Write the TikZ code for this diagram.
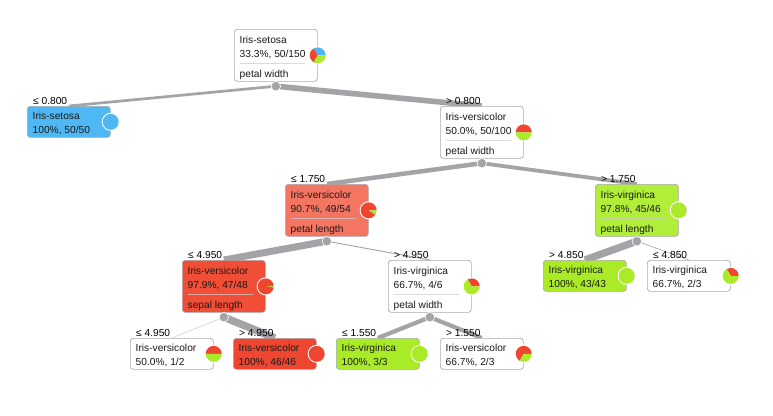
\documentclass[tikz,border=0pt]{standalone}
\usepackage{fontspec}
\setmainfont{Liberation Sans}
\usetikzlibrary{backgrounds}

\definecolor{edgecol}{HTML}{A3A3A8}
\definecolor{boxline}{HTML}{A9A9A9}
\definecolor{txtcol}{HTML}{1A1A1A}
\definecolor{setosa}{HTML}{4DB8F4}
\definecolor{versi}{HTML}{EE4630}
\definecolor{virg}{HTML}{AAEB28}
\definecolor{versiA}{HTML}{F57563}
\definecolor{versiB}{HTML}{F04E37}
\definecolor{virgA}{HTML}{B1EE3A}

% internal node: name, position, fill, condition, class, stats, attribute
\newcommand\splitbox[7]{%
  \node[tbox, minimum height=52pt, fill=#3] (#1) at #2 {};
  \node[cond] (#1-c) at ([shift={(6,-1.5)}]#1.north west) {#4};
  \node[txt] (#1-1) at ([shift={(5.5,14)}]#1.north west) {#5};
  \node[txt] (#1-2) at ([shift={(5.5,28)}]#1.north west) {#6};
  \draw[sepline] ([shift={(5.5,34.5)}]#1.north west) -- ([shift={(-13,34.5)}]#1.north east);
  \node[txt] (#1-3) at ([shift={(5.5,48)}]#1.north west) {#7};
  \node[splitdot] (#1-s) at ([shift={(0,4.5)}]#1.south) {};
}
% leaf node: name, position, fill, condition, class, stats
\newcommand\leafbox[6]{%
  \node[tbox, minimum height=31pt, fill=#3] (#1) at #2 {};
  \node[cond] (#1-c) at ([shift={(6,-1.5)}]#1.north west) {#4};
  \node[txt] (#1-1) at ([shift={(5.5,13.5)}]#1.north west) {#5};
  \node[txt] (#1-2) at ([shift={(5.5,27)}]#1.north west) {#6};
}
% class distribution pie on the right edge of a node
\newcommand\distpie[2]{%
  \fill[white] (#1.east) circle[radius=9pt];
  \foreach \a/\b/\c in {#2} {
    \fill[\c] (#1.east) -- ++(\a:8pt) arc[start angle=\a, end angle=\b, radius=8pt] -- cycle;
  }
}

\begin{document}
\begin{tikzpicture}[x=1pt, y=-1pt,
  font=\fontsize{10.2}{12}\selectfont,
  tbox/.style={draw=boxline, line width=0.7pt, rounded corners=3pt,
    minimum width=83pt, anchor=north west, inner sep=0pt},
  txt/.style={anchor=base west, inner sep=0pt, text=txtcol},
  cond/.style={anchor=base west, inner sep=0pt, text=black},
  sepline/.style={draw=black!20, opacity=0.7, line width=0.8pt},
  splitdot/.style={circle, fill=edgecol, draw=white, line width=0.6pt,
    minimum size=9.5pt, inner sep=0pt},
  edge/.style={draw=edgecol, line cap=butt}]

\useasboundingbox (0,0) rectangle (773,415);

% root
\node[tbox, minimum height=52pt, fill=white] (root) at (234,29) {};
\node[txt] (root-1) at ([shift={(5.5,14)}]root.north west) {Iris-setosa};
\node[txt] (root-2) at ([shift={(5.5,28)}]root.north west) {33.3\%, 50/150};
\draw[sepline] ([shift={(5.5,34.5)}]root.north west) -- ([shift={(-13,34.5)}]root.north east);
\node[txt] (root-3) at ([shift={(5.5,48)}]root.north west) {petal width};
\node[splitdot] (root-s) at ([shift={(0,4.5)}]root.south) {};

% level 1
\leafbox{nset}{(27,106)}{setosa}{≤ 0.800}{Iris-setosa}{100\%, 50/50}
\splitbox{nver}{(440,106)}{white}{> 0.800}{Iris-versicolor}{50.0\%, 50/100}{petal width}

% level 2
\splitbox{nA}{(285,184)}{versiA}{≤ 1.750}{Iris-versicolor}{90.7\%, 49/54}{petal length}
\splitbox{nB}{(595,184)}{virgA}{> 1.750}{Iris-virginica}{97.8\%, 45/46}{petal length}

% level 3
\splitbox{nC}{(182,260)}{versiB}{≤ 4.950}{Iris-versicolor}{97.9\%, 47/48}{sepal length}
\splitbox{nD}{(388,260)}{white}{> 4.950}{Iris-virginica}{66.7\%, 4/6}{petal width}
\leafbox{nE}{(543,260)}{virg}{> 4.850}{Iris-virginica}{100\%, 43/43}
\leafbox{nF}{(647,260)}{white}{≤ 4.850}{Iris-virginica}{66.7\%, 2/3}

% level 4
\leafbox{nG}{(130,338)}{white}{≤ 4.950}{Iris-versicolor}{50.0\%, 1/2}
\leafbox{nH}{(233,338)}{versi}{> 4.950}{Iris-versicolor}{100\%, 46/46}
\leafbox{nI}{(336,338)}{virg}{≤ 1.550}{Iris-virginica}{100\%, 3/3}
\leafbox{nJ}{(440,338)}{white}{> 1.550}{Iris-versicolor}{66.7\%, 2/3}

% class distributions
\distpie{root}{0/120/setosa, 120/240/versi, 240/360/virg}
\distpie{nset}{0/360/setosa}
\distpie{nver}{0/180/versi, 180/360/virg}
\distpie{nA}{0/326.7/versi, 326.7/360/virg}
\distpie{nB}{0/7.8/versi, 7.8/360/virg}
\distpie{nC}{0/352.5/versi, 352.5/360/virg}
\distpie{nD}{0/120/versi, 120/360/virg}
\distpie{nE}{0/360/virg}
\distpie{nF}{0/120/versi, 120/360/virg}
\distpie{nG}{0/180/versi, 180/360/virg}
\distpie{nH}{0/360/versi}
\distpie{nI}{0/360/virg}
\distpie{nJ}{0/240/versi, 240/360/virg}

% connectors, widths follow the share of samples passed down
\begin{scope}[on background layer]
  \fill[white] (0,0) rectangle (773,415);
  \draw[edge, line width=2.7pt] (root-s.center) -- (nset.north);
  \draw[edge, line width=5.6pt] (root-s.center) -- (nver.north);
  \draw[edge, line width=4.5pt] (nver-s.center) -- (nA.north);
  \draw[edge, line width=3.8pt] (nver-s.center) -- (nB.north);
  \draw[edge, line width=7.0pt] (nA-s.center) -- (nC.north);
  \draw[edge, line width=0.9pt] (nA-s.center) -- (nD.north);
  \draw[edge, line width=7.3pt] (nB-s.center) -- (nE.north);
  \draw[edge, line width=0.6pt] (nB-s.center) -- (nF.north);
  \draw[edge, line width=0.5pt, draw=edgecol!60] (nC-s.center) -- (nG.north);
  \draw[edge, line width=7.5pt] (nC-s.center) -- (nH.north);
  \draw[edge, line width=4.2pt] (nD-s.center) -- (nI.north);
  \draw[edge, line width=4.2pt] (nD-s.center) -- (nJ.north);
\end{scope}
\end{tikzpicture}
\end{document}
